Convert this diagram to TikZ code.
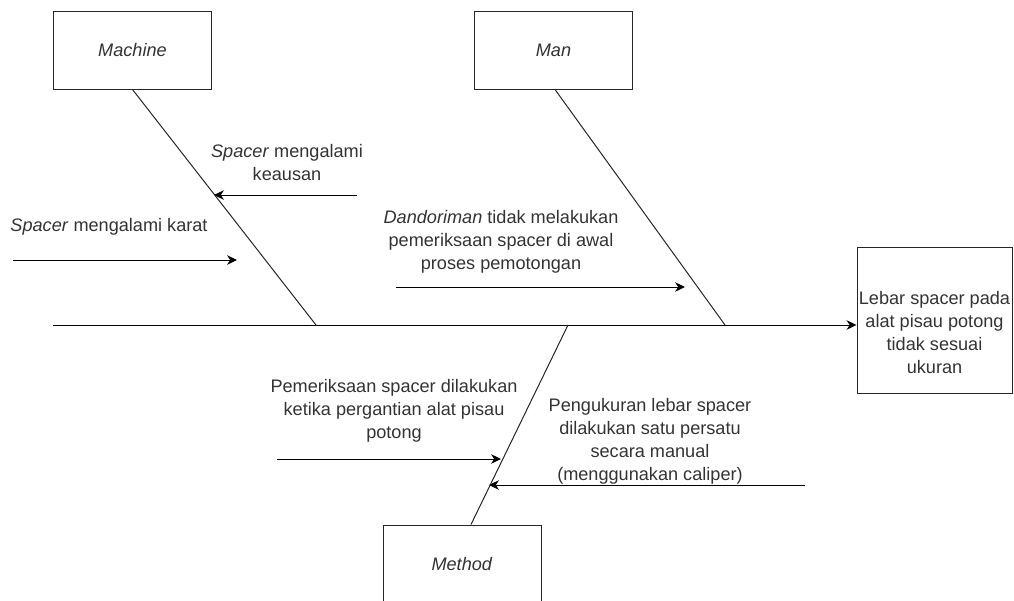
\documentclass[tikz,border=0pt]{standalone}
\usepackage{fontspec}
\setmainfont{Liberation Sans}
\usetikzlibrary{arrows.meta,calc}
\begin{document}
\begin{tikzpicture}[x=0.75pt,y=-0.75pt,
  every node/.style={font=\fontsize{13.6pt}{17.25pt}\selectfont, text=black!80},
  box/.style={draw=black!85, line width=0.75pt, minimum width=118.5pt, minimum height=58.5pt, inner sep=0pt},
  lbl/.style={align=center, inner sep=0pt},
  bone/.style={draw=black!85, line width=0.75pt},
  arr/.style={draw=black, line width=0.75pt, -{Stealth[length=7.5pt,width=7.2pt,inset=2.4pt]}}]
\useasboundingbox (0,0) rectangle (1014,600);
% category boxes
\node[box] (machine) at (132.5,50) {\textit{Machine}};
\node[box] (man) at (553.5,50) {\textit{Man}};
\node[box] (method) at (462,564) {\textit{Method}};
\node[box, minimum width=116.25pt, minimum height=109.5pt] (effect) at (934.5,320) {};
\node[lbl] (efftxt) at (934.5,333) {Lebar spacer pada\\alat pisau potong\\tidak sesuai\\ukuran};
% spine
\coordinate (tail) at (53,325);
\draw[arr] (tail) -- (tail -| effect.west);
% joints
\coordinate (j1) at (316,325);
\coordinate (j2) at (725,325);
\coordinate (j3) at (568,325);
\draw[bone] (machine.south) -- (j1);
\draw[bone] ($(man.south)+(1.5,0)$) -- (j2);
\draw[bone] (j3) -- ($(method.north)+(9,0)$);
% cause arrows
\coordinate (a1s) at (357,195); \coordinate (a1e) at (214,195);
\coordinate (a2s) at (13,260);  \coordinate (a2e) at (237,260);
\coordinate (a3s) at (396,287); \coordinate (a3e) at (685,287);
\coordinate (a4s) at (277,459); \coordinate (a4e) at (501,459);
\coordinate (a5s) at (805,485); \coordinate (a5e) at (489,485);
\draw[arr] (a1s) -- (a1e);
\draw[arr] (a2s) -- (a2e);
\draw[arr] (a3s) -- (a3e);
\draw[arr] (a4s) -- (a4e);
\draw[arr] (a5s) -- (a5e);
% labels
\node[lbl] (t1) at (287,162.5) {\textit{Spacer} mengalami\\keausan};
\node[lbl] (t2) at (109,227) {\textit{Spacer} mengalami karat};
\node[lbl] (t3) at (501,242) {\textit{Dandoriman} tidak melakukan\\pemeriksaan spacer di awal\\proses pemotongan};
\node[lbl] (t4) at (394,411) {Pemeriksaan spacer dilakukan\\ketika pergantian alat pisau\\potong};
\node[lbl] (t5) at (650,441.5) {Pengukuran lebar spacer\\dilakukan satu persatu\\secara manual\\(menggunakan caliper)};
\end{tikzpicture}
\end{document}
